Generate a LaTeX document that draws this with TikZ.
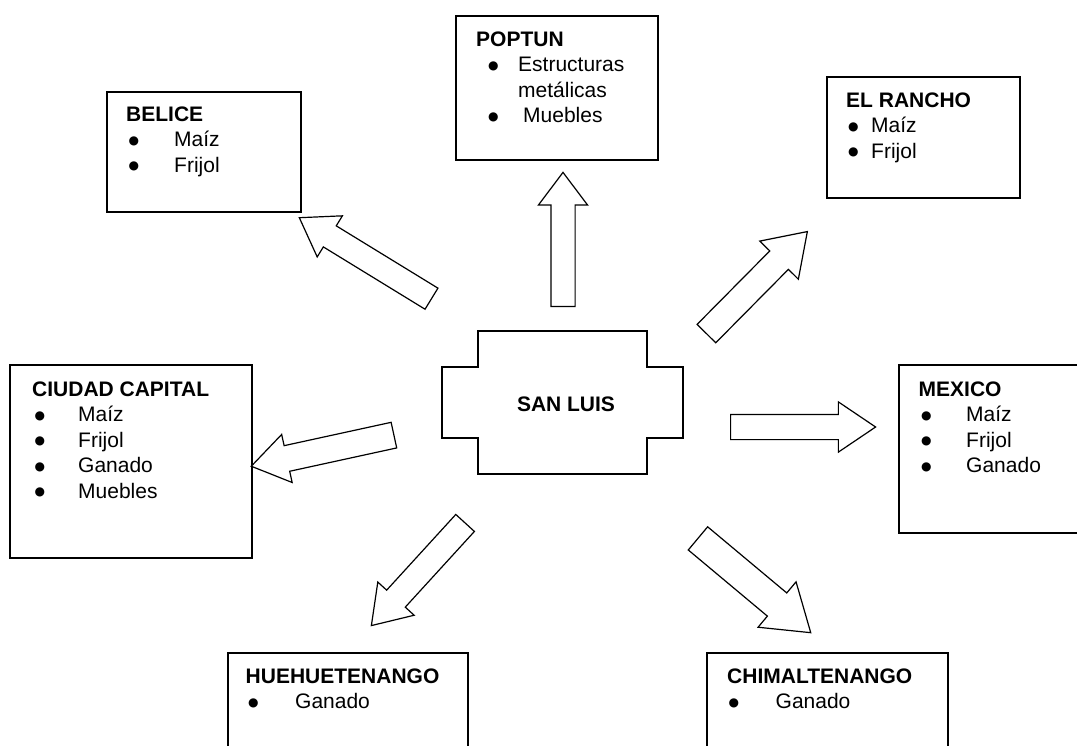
\documentclass[tikz,border=0pt]{standalone}
\usepackage{fontspec}
\setmainfont{Liberation Sans}
\newfontfamily\dotfont{DejaVu Sans}
\usepackage{tikz}
\usetikzlibrary{arrows.meta}
\usetikzlibrary{positioning, shapes.arrows, shapes.geometric}
\newcommand{\itemdot}{\raisebox{2.2pt}{\dotfont\fontsize{12pt}{12pt}\selectfont ●}}
\tikzset{
place/.style = { rectangle, draw = black, line width = 1.6pt, fill = white, anchor = north west, inner sep = 0pt },
goods/.style = { anchor = base west, inner sep = 0pt, font = \fontsize{21pt}{25.5pt}\selectfont },
hub/.style = { inner sep = 0pt, font = \fontsize{21pt}{25.5pt}\selectfont\bfseries },
flow/.style = { single arrow, draw = black, line width = 1.2pt, fill = white, inner xsep = 0pt, inner ysep = 12pt, single arrow tip angle = 68, anchor = tail },
}

\begin{document}
\begin{tikzpicture}[x = 1pt, y = -1pt]
    \useasboundingbox (0, 0) rectangle (1077, 745);
    \clip (0, 0) rectangle (1077, 745);
    % destination boxes
    \node[place, minimum width = 194pt, minimum height = 120pt] (belice) at (106, 91) {};
    \node[place, minimum width = 202pt, minimum height = 144pt] (poptun) at (455, 15) {};
    \node[place, minimum width = 193pt, minimum height = 121pt] (rancho) at (826, 76) {};
    \node[place, minimum width = 242pt, minimum height = 193pt] (capital) at (9, 364) {};
    \node[place, minimum width = 200pt, minimum height = 168pt] (mexico) at (898, 364) {};
    \node[place, minimum width = 240pt, minimum height = 120pt] (huehue) at (227, 652) {};
    \node[place, minimum width = 241pt, minimum height = 120pt] (chimal) at (706, 652) {};
    % box texts
    \node[goods] (belice text) at (126, 121) {\begin{tabular}[t]{@{\hspace{2.5pt}}p{45.5pt}@{}l@{}}
        \multicolumn{2}{@{}l@{}}{\textbf{BELICE}}\\
        \itemdot & Maíz\\
        \itemdot & Frijol
    \end{tabular}};
    \node[goods] (poptun text) at (476, 46) {\begin{tabular}[t]{@{\hspace{12pt}}p{30pt}@{}l@{}}
        \multicolumn{2}{@{}l@{}}{\textbf{POPTUN}}\\
        \itemdot & Estructuras\\
         & metálicas\\
        \itemdot & \hspace{5pt}Muebles
    \end{tabular}};
    \node[goods] (rancho text) at (846, 107) {\begin{tabular}[t]{@{\hspace{2pt}}p{23pt}@{}l@{}}
        \multicolumn{2}{@{}l@{}}{\textbf{EL RANCHO}}\\
        \itemdot & Maíz\\
        \itemdot & Frijol
    \end{tabular}};
    \node[goods] (capital text) at (32, 396) {\begin{tabular}[t]{@{\hspace{2.5pt}}p{43.5pt}@{}l@{}}
        \multicolumn{2}{@{}l@{}}{\textbf{CIUDAD CAPITAL}}\\
        \itemdot & Maíz\\
        \itemdot & Frijol\\
        \itemdot & Ganado\\
        \itemdot & Muebles
    \end{tabular}};
    \node[goods] (mexico text) at (918.5, 396) {\begin{tabular}[t]{@{\hspace{2.5pt}}p{45pt}@{}l@{}}
        \multicolumn{2}{@{}l@{}}{\textbf{MEXICO}}\\
        \itemdot & Maíz\\
        \itemdot & Frijol\\
        \itemdot & Ganado
    \end{tabular}};
    \node[goods] (huehue text) at (245.5, 683) {\begin{tabular}[t]{@{\hspace{2.5pt}}p{47pt}@{}l@{}}
        \multicolumn{2}{@{}l@{}}{\textbf{HUEHUETENANGO}}\\
        \itemdot & Ganado
    \end{tabular}};
    \node[goods] (chimal text) at (727, 683) {\begin{tabular}[t]{@{\hspace{1.5pt}}p{47pt}@{}l@{}}
        \multicolumn{2}{@{}l@{}}{\textbf{CHIMALTENANGO}}\\
        \itemdot & Ganado
    \end{tabular}};
    % san luis
    \draw[line width = 1.4pt] (478, 331) -- (647, 331) -- (647, 367) -- (683, 367) -- (683, 438) -- (647, 438) -- (647, 474) -- (478, 474) -- (478, 438) -- (442, 438) -- (442, 367) -- (478, 367) -- cycle;
    \node[hub] (sanluis) at (566, 404) {SAN LUIS};
    % flows out of san luis
    \node[flow, rotate = 148.5, minimum height = 155pt, inner ysep = 11.75pt, single arrow head extend = 11.75pt] (to belice) at (432, 299) {};
    \node[flow, rotate = 90, minimum height = 134pt, inner ysep = 11.5pt, single arrow head extend = 12.5pt, single arrow tip angle = 74] (to poptun) at (563, 307) {};
    \node[flow, rotate = 45.3, minimum height = 143.5pt, inner ysep = 12.5pt, single arrow head extend = 14pt] (to rancho) at (706, 334) {};
    \node[flow, rotate = 0, minimum height = 145pt, inner ysep = 12pt, single arrow head extend = 12.5pt] (to mexico) at (730, 427) {};
    \node[flow, rotate = 192.3, minimum height = 146pt, inner ysep = 12.5pt, single arrow head extend = 11.5pt] (to capital) at (394.5, 435) {};
    \node[flow, rotate = 227.6, minimum height = 139pt, inner ysep = 12pt, single arrow head extend = 12pt] (to huehue) at (465.5, 522.5) {};
    \node[flow, rotate = -39.9, minimum height = 147pt, inner ysep = 14.5pt, single arrow head extend = 14.5pt] (to chimal) at (697.5, 538) {};
\end{tikzpicture}
\end{document}
